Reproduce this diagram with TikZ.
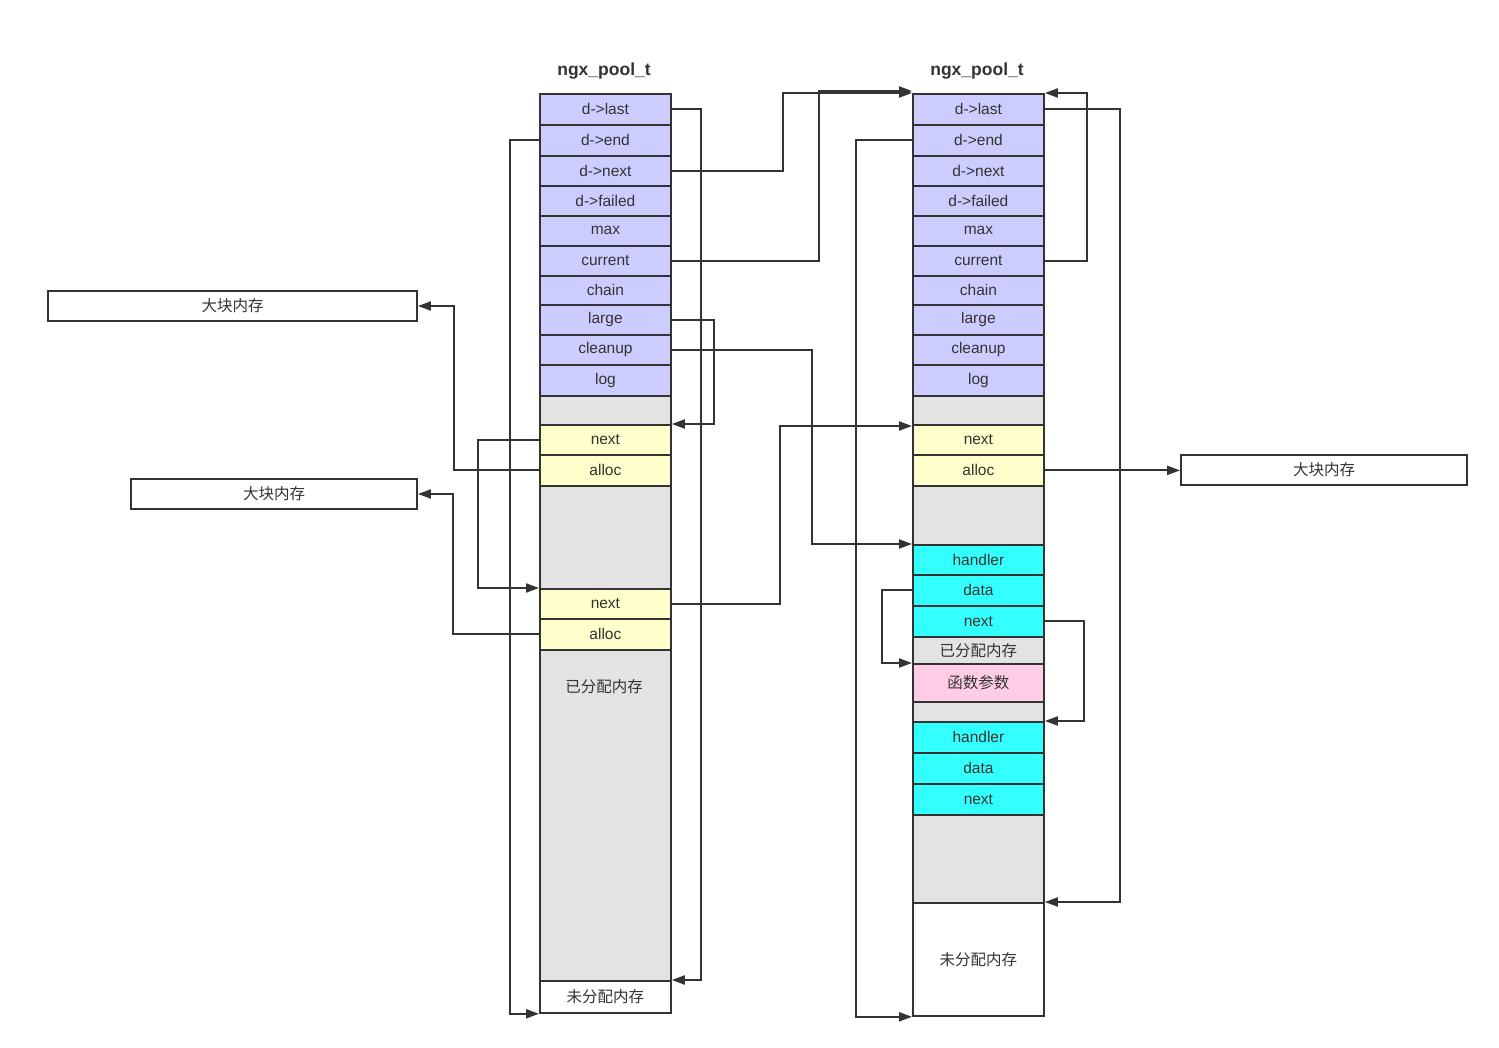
\documentclass[tikz,border=0pt]{standalone}
\usepackage{fontspec}
\setmainfont{Liberation Sans}
\newfontfamily\cjk{Noto Sans CJK SC}
\usepackage{tikz}
\usetikzlibrary{arrows.meta}
\definecolor{ink}{HTML}{333333}
\definecolor{lav}{HTML}{CCCCFF}
\definecolor{pale}{HTML}{FFFFCC}
\definecolor{blank}{HTML}{E3E3E3}
\definecolor{aqua}{HTML}{33FFFF}
\definecolor{rose}{HTML}{FFCCE6}

\begin{document}
\begin{tikzpicture}[x=1pt,y=-1pt,
			fld/.style={draw=ink,line width=1.8pt,anchor=north west,minimum width=131pt,inner sep=0pt,
				text=ink,font=\fontsize{15.5}{17}\selectfont},
			hdr/.style={fld,fill=lav},
			blk/.style={fld,fill=pale},
			gap/.style={fld,fill=blank},
			cln/.style={fld,fill=aqua},
			arg/.style={fld,fill=rose},
			zh/.style={font=\cjk\fontsize{15.5}{17}\selectfont},
			mem/.style={draw=ink,line width=1.8pt,inner sep=0pt,text=ink,minimum height=30pt,zh},
			ttl/.style={text=ink,font=\bfseries\fontsize{17.5}{19}\selectfont},
			link/.style={-{Triangle[length=13pt,width=9pt]},draw=ink,line width=2pt}]
			\useasboundingbox (0,0) rectangle (1499,1048);
			% first pool
			\node[ttl] (Ltitle) at (604,71) {ngx\_pool\_t};
			\node[hdr,minimum height=31pt] (Llast) at (539,93) {d->last};
			\node[hdr,minimum height=31pt] (Lend) at (539,124) {d->end};
			\node[hdr,minimum height=30pt] (Lnext) at (539,155) {d->next};
			\node[hdr,minimum height=30pt] (Lfailed) at (539,185) {d->failed};
			\node[hdr,minimum height=30pt] (Lmax) at (539,215) {max};
			\node[hdr,minimum height=30pt] (Lcurrent) at (539,245) {current};
			\node[hdr,minimum height=29pt] (Lchain) at (539,275) {chain};
			\node[hdr,minimum height=30pt] (Llarge) at (539,304) {large};
			\node[hdr,minimum height=30pt] (Lcleanup) at (539,334) {cleanup};
			\node[hdr,minimum height=31pt] (Llog) at (539,364) {log};
			\node[gap,minimum height=29pt] (Lgapa) at (539,395) {};
			\node[blk,minimum height=30pt] (Lnexta) at (539,424) {next};
			\node[blk,minimum height=31pt] (Lalloca) at (539,454) {alloc};
			\node[gap,minimum height=103pt] (Lgapb) at (539,485) {};
			\node[blk,minimum height=30pt] (Lnextb) at (539,588) {next};
			\node[blk,minimum height=31pt] (Lallocb) at (539,618) {alloc};
			\node[gap,minimum height=331pt] (Lused) at (539,649) {};
			\node[text=ink,zh] (Lusedtxt) at (604,687) {已分配内存};
			\node[fld,fill=white,minimum height=32pt,zh] (Lfree) at (539,980) {未分配内存};
			% second pool
			\node[ttl] (Rtitle) at (977,71) {ngx\_pool\_t};
			\node[hdr,minimum height=31pt] (Rlast) at (912,93) {d->last};
			\node[hdr,minimum height=31pt] (Rend) at (912,124) {d->end};
			\node[hdr,minimum height=30pt] (Rnext) at (912,155) {d->next};
			\node[hdr,minimum height=30pt] (Rfailed) at (912,185) {d->failed};
			\node[hdr,minimum height=30pt] (Rmax) at (912,215) {max};
			\node[hdr,minimum height=30pt] (Rcurrent) at (912,245) {current};
			\node[hdr,minimum height=29pt] (Rchain) at (912,275) {chain};
			\node[hdr,minimum height=30pt] (Rlarge) at (912,304) {large};
			\node[hdr,minimum height=30pt] (Rcleanup) at (912,334) {cleanup};
			\node[hdr,minimum height=31pt] (Rlog) at (912,364) {log};
			\node[gap,minimum height=29pt] (Rgapa) at (912,395) {};
			\node[blk,minimum height=30pt] (Rnexta) at (912,424) {next};
			\node[blk,minimum height=31pt] (Ralloca) at (912,454) {alloc};
			\node[gap,minimum height=59pt] (Rgapb) at (912,485) {};
			\node[cln,minimum height=30pt] (Rhandlera) at (912,544) {handler};
			\node[cln,minimum height=31pt] (Rdataa) at (912,574) {data};
			\node[cln,minimum height=31pt] (Rnextc) at (912,605) {next};
			\node[gap,minimum height=27pt,zh] (Rused) at (912,636) {已分配内存};
			\node[arg,minimum height=38pt,zh] (Rarg) at (912,663) {函数参数};
			\node[gap,minimum height=20pt] (Rgapc) at (912,701) {};
			\node[cln,minimum height=31pt] (Rhandlerb) at (912,721) {handler};
			\node[cln,minimum height=31pt] (Rdatab) at (912,752) {data};
			\node[cln,minimum height=31pt] (Rnextd) at (912,783) {next};
			\node[gap,minimum height=88pt] (Rgapd) at (912,814) {};
			\node[fld,fill=white,minimum height=113pt,zh] (Rfree) at (912,902) {未分配内存};
			% large blocks
			\node[mem,minimum width=369pt] (Bigone) at (232.5,306) {大块内存};
			\node[mem,minimum width=286pt] (Bigtwo) at (274,494) {大块内存};
			\node[mem,minimum width=286pt] (Bigthree) at (1324,470) {大块内存};
			% links of the first pool
			\draw[link] (Llast.east) -- ++(29,0) |- (Lfree.north east);
			\draw[link] (Lend.west) -- ++(-29,0) |- (Lfree.south west);
			\draw[link] (Lnext.east) -- ++(111,0) |- (Rlast.north west);
			\draw[link] (Lcurrent.east) -- ++(147,0) |- ([yshift=2pt]Rlast.north west);
			\draw[link] (Llarge.east) -- ++(42,0) |- (Lnexta.north east);
			\draw[link] (Lcleanup.east) -- ++(140,0) |- (Rhandlera.north west);
			\draw[link] (Lnexta.west) -- ++(-61,0) |- (Lnextb.north west);
			\draw[link] (Lalloca.west) -- ++(-85,0) |- (Bigone.east);
			\draw[link] (Lnextb.east) -- ++(108,0) |- ([yshift=-2pt]Rnexta.north west);
			\draw[link] (Lallocb.west) -- ++(-86,0) |- (Bigtwo.east);
			% links of the second pool
			\draw[link] (Rlast.east) -- ++(75,0) |- (Rfree.north east);
			\draw[link] (Rend.west) -- ++(-56,0) |- (Rfree.south west);
			\draw[link] (Rcurrent.east) -- ++(42,0) |- (Rlast.north east);
			\draw[link] (Ralloca.east) -- (Ralloca.east -| Bigthree.west);
			\draw[link] (Rdataa.west) -- ++(-30,0) |- (Rarg.north west);
			\draw[link] (Rnextc.east) -- ++(39,0) |- (Rhandlerb.north east);
		\end{tikzpicture}
\end{document}
